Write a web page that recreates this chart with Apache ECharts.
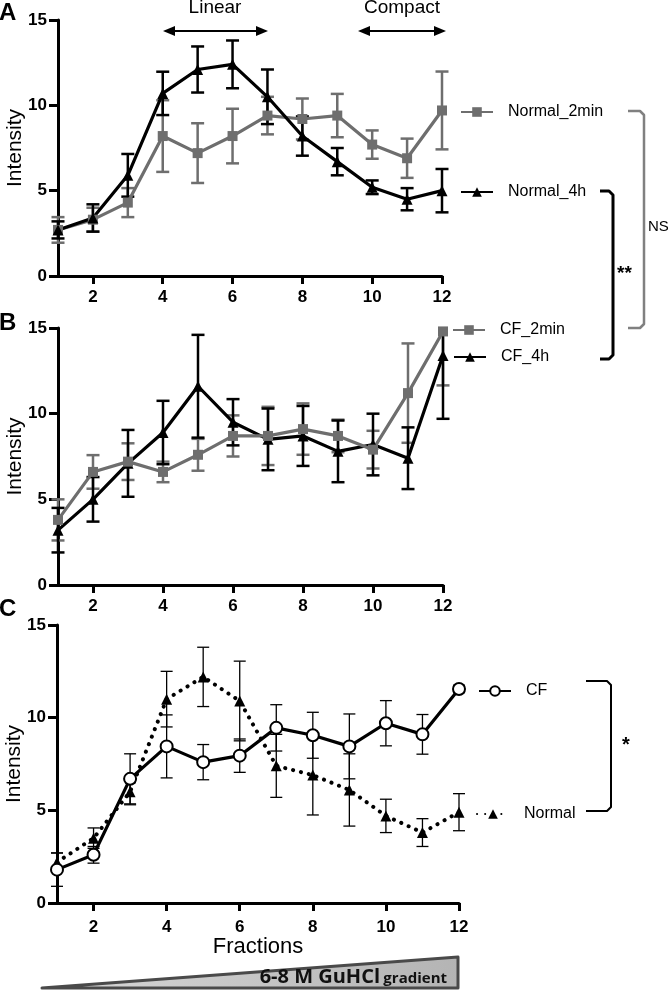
<!DOCTYPE html>
<html><head><meta charset="utf-8">
<script src="https://cdn.jsdelivr.net/npm/echarts@6/dist/echarts.min.js"></script>
<style>html,body{margin:0;padding:0;background:#fff}#c{width:671px;height:991px}</style>
</head><body><div id="c"></div><script>
const fractions = [1,2,3,4,5,6,7,8,9,10,11,12];
const xTicks = [2,4,6,8,10,12];
// Panel A
const normal2min = [2.7,3.3,4.3,8.2,7.2,8.2,9.4,9.2,9.4,7.7,6.9,9.7];
const normal2minErr = [0.75,0.7,0.85,2.1,1.75,1.6,1.1,1.2,1.27,0.83,1.15,2.28];
const normal4h = [2.7,3.4,5.9,10.7,12.1,12.4,10.5,8.2,6.7,5.2,4.5,5.0];
const normal4hErr = [0.5,0.8,1.25,1.27,1.35,1.4,1.6,1.15,0.8,0.4,0.65,1.27];
// Panel B
const cf2min = [3.8,6.6,7.2,6.6,7.6,8.7,8.7,9.1,8.7,7.9,11.2,14.8];
const cf2minErr = [1.2,0.98,1.07,0.6,0.93,1.2,1.7,1.5,0.95,1.1,2.9,3.15];
const cf4h = [3.2,5.0,7.1,8.9,11.6,9.5,8.5,8.7,7.8,8.2,7.4,13.4];
const cf4hErr = [1.3,1.3,1.95,1.85,3.0,1.35,1.8,1.75,1.8,1.8,1.8,3.7];
// Panel C
const cfMean = [1.8,2.6,6.7,8.45,7.6,7.95,9.45,9.05,8.45,9.7,9.1,11.55];
const cfErr = [0.9,0.45,1.35,1.7,0.95,0.9,1.25,1.24,1.75,1.22,1.07,0.2];
const normalMean = [2.2,3.5,6.0,11.0,12.2,10.9,7.4,6.9,6.1,4.7,3.8,4.9];
const normalErr = [0.5,0.55,0.7,1.5,1.6,2.15,1.7,2.15,1.95,0.9,0.75,1.0];

const FONT = 'Liberation Sans, Arial, sans-serif';
const GRAY = '#6e6e6e';
const YMAX = 15;

const grids = [
  {left:58, top:20, width:384, height:256, containLabel:false, outerBoundsMode:'none'},
  {left:58, top:328, width:385, height:257, containLabel:false, outerBoundsMode:'none'},
  {left:57, top:625, width:402, height:278, containLabel:false, outerBoundsMode:'none'}
];
const labelSize = [17,17,17];

function xAxis(i, name) {
  return {
    gridIndex:i, type:'value', min:1, max:12,
    name: name || '', nameLocation:'middle', nameGap:33, nameMoveOverlap:false,
    nameTextStyle:{fontSize:22, fontFamily:FONT, color:'#000'},
    axisLine:{lineStyle:{color:'#000', width:3}},
    axisTick:{customValues:xTicks, length:8, lineStyle:{color:'#000', width:3}},
    axisLabel:{customValues:xTicks, fontWeight:'bold', fontSize:labelSize[i], fontFamily:FONT, color:'#000', margin:i===2?16:13},
    splitLine:{show:false}
  };
}
function yAxis(i) {
  return {
    gridIndex:i, type:'value', min:0, max:15, interval:5,
    name:'Intensity', nameLocation:'middle', nameRotate:90, nameGap:32, nameMoveOverlap:false,
    nameTextStyle:{fontSize:21, fontFamily:FONT, color:'#000'},
    axisLine:{show:true, lineStyle:{color:'#000', width:3}},
    axisTick:{show:true, length:9, lineStyle:{color:'#000', width:3}},
    axisLabel:{fontWeight:'bold', fontSize:labelSize[i], fontFamily:FONT, color:'#000', margin:11},
    splitLine:{show:false}
  };
}

function errSeries(i, vals, errs, color, width, cap) {
  return {
    type:'custom', xAxisIndex:i, yAxisIndex:i, silent:true, z:1, clip:false,
    data: vals.map((v,k)=>[fractions[k], v-errs[k], v+errs[k]]),
    renderItem(params, api) {
      const x = api.value(0);
      const loV = Math.max(0, api.value(1));
      const hiRaw = api.value(2);
      const hiV = Math.min(YMAX, hiRaw);
      const lo = api.coord([x, loV]);
      const hi = api.coord([x, hiV]);
      const st = {stroke:color, lineWidth:width};
      const ch = [
        {type:'line', shape:{x1:lo[0], y1:lo[1], x2:hi[0], y2:hi[1]}, style:st},
        {type:'line', shape:{x1:lo[0]-cap, y1:lo[1], x2:lo[0]+cap, y2:lo[1]}, style:st}
      ];
      if (hiRaw <= YMAX) ch.push({type:'line', shape:{x1:hi[0]-cap, y1:hi[1], x2:hi[0]+cap, y2:hi[1]}, style:st});
      return {type:'group', children:ch};
    }
  };
}
function lineSeries(i, name, vals, color, symbol, size, extra) {
  return Object.assign({
    type:'line', name, xAxisIndex:i, yAxisIndex:i, z:3,
    data: vals.map((v,k)=>[fractions[k], v]),
    symbol, symbolSize:size,
    lineStyle:{color, width:3.2},
    itemStyle:{color},
    emphasis:{disabled:true}, animation:false
  }, extra || {});
}

function legend(name, left, top) {
  return {
    data:[name], left, top, orient:'vertical', padding:0,
    itemWidth:32, itemHeight:12, selectedMode:false,
    textStyle:{fontSize:16, fontFamily:FONT, color:'#000', padding:[0,0,0,10]}
  };
}

const series = [
  errSeries(0, normal2min, normal2minErr, GRAY, 2.5, 6.5),
  errSeries(0, normal4h, normal4hErr, '#000', 2.5, 6.5),
  lineSeries(0, 'Normal_2min', normal2min, GRAY, 'rect', 10),
  lineSeries(0, 'Normal_4h', normal4h, '#000', 'triangle', 11),
  errSeries(1, cf2min, cf2minErr, GRAY, 2.5, 6.5),
  errSeries(1, cf4h, cf4hErr, '#000', 2.5, 6.5),
  lineSeries(1, 'CF_4h', cf4h, '#000', 'triangle', 11),
  lineSeries(1, 'CF_2min', cf2min, GRAY, 'rect', 10),
  errSeries(2, normalMean, normalErr, '#000', 1.3, 6),
  errSeries(2, cfMean, cfErr, '#000', 1.3, 6),
  lineSeries(2, 'Normal', normalMean, '#000', 'triangle', 11,
    {lineStyle:{color:'#000', width:4, type:[0.1, 8], cap:'round'}}),
  lineSeries(2, 'CF', cfMean, '#000', 'emptyCircle', 12,
    {itemStyle:{color:'#000', borderWidth:2.5}})
];

function arrow(x1, x2, y) {
  return [
    {type:'line', shape:{x1:x1+8, y1:y, x2:x2-8, y2:y}, style:{stroke:'#000', lineWidth:2}},
    {type:'polygon', shape:{points:[[x1,y],[x1+12,y-5],[x1+12,y+5]]}, style:{fill:'#000'}},
    {type:'polygon', shape:{points:[[x2,y],[x2-12,y-5],[x2-12,y+5]]}, style:{fill:'#000'}}
  ];
}
function bracket(xl, xr, y1, y2, color, w) {
  return {type:'polyline', shape:{points:[[xl,y1],[xr-4,y1],[xr,y1+4],[xr,y2-4],[xr-4,y2],[xl,y2]]},
    style:{stroke:color, lineWidth:w, fill:null, lineJoin:'round'}};
}
function txt(x, y, text, size, weight, align, extra) {
  return Object.assign({type:'text', x, y, style:{text, fontSize:size, fontWeight:weight||'normal', fontFamily:FONT,
    fill:'#000', align:align||'left', verticalAlign:'middle'}}, extra||{});
}

const graphic = [
  txt(-1, 13, 'A', 24, 'bold'),
  txt(-1, 323, 'B', 24, 'bold'),
  txt(-1, 609, 'C', 24, 'bold'),
  txt(215, 8, 'Linear', 19, 'normal', 'center'),
  txt(402, 8, 'Compact', 19, 'normal', 'center'),
  ...arrow(163, 268, 31),
  ...arrow(358, 446, 31),
  bracket(628, 644, 111, 328, '#808080', 2.5),
  txt(648, 227, 'NS', 15, 'normal'),
  bracket(600, 613, 191, 359, '#000', 3),
  txt(617, 274, '**', 19, 'bold'),
  bracket(586, 611, 681, 811, '#000', 2),
  txt(622, 745, '*', 20, 'bold'),
  {type:'polygon', shape:{points:[[42,988],[458,957],[458,988]]},
   style:{fill:{type:'linear', x:0, y:0, x2:1, y2:0, colorStops:[{offset:0,color:'#d8d8d8'},{offset:1,color:'#b4b4b4'}]},
     stroke:'#4a4a4a', lineWidth:3, lineJoin:'round'}},
  {type:'text', x:447, y:977, style:{
    text:'{a|6-8 M GuHCl} {b|gradient}', align:'right', verticalAlign:'middle',
    rich:{a:{fontSize:20, fontWeight:'bold', fontFamily:'Open Sans, sans-serif', fill:'#111'},
          b:{fontSize:15, fontWeight:'bold', fontFamily:'Open Sans, sans-serif', fill:'#111', padding:[4,0,0,0]}}}}
];

const option = {
  animation:false,
  backgroundColor:'#fff',
  grid: grids,
  xAxis: [xAxis(0), xAxis(1), xAxis(2, 'Fractions')],
  yAxis: [yAxis(0), yAxis(1), yAxis(2)],
  legend: [
    legend('Normal_2min', 460, 104),
    legend('Normal_4h', 460, 184),
    legend('CF_2min', 452, 322),
    legend('CF_4h', 453, 349),
    legend('CF', 478, 683),
    legend('Normal', 476, 806)
  ],
  series,
  graphic
};
const chart = echarts.init(document.getElementById('c'), null, {renderer:'canvas'});
chart.setOption(option);
</script></body></html>
